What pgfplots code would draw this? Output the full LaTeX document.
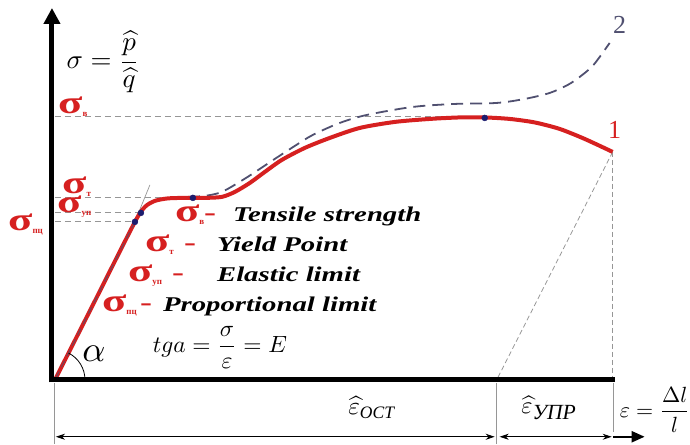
\documentclass[border=0pt]{standalone}
\usepackage{pgfplots}
\pgfplotsset{compat=1.18}
\usepackage{fontspec}
\setmainfont{Liberation Serif}
\usepackage{graphicx}
\usepackage{amsmath}
\usetikzlibrary{arrows.meta}
\definecolor{cred}{RGB}{214,32,32}
\definecolor{cnavy}{RGB}{80,80,112}
\definecolor{cdot}{RGB}{28,28,110}
\definecolor{cgray}{RGB}{150,150,150}
\newcommand{\sig}[1]{\textcolor{cred}{\scalebox{1.4}[1]{\fontsize{32}{32}\selectfont\bfseries σ}\raisebox{-3pt}{\fontsize{9}{9}\selectfont\bfseries #1}}}
\newcommand{\lbl}[1]{\scalebox{1.37}[1]{\fontsize{21}{21}\selectfont\bfseries\itshape #1}}
\newcommand{\dash}{\textcolor{cred}{\scalebox{1.5}[1]{\fontsize{24}{24}\selectfont\bfseries -}}}
\begin{document}
\begin{tikzpicture}
\begin{axis}[width=690pt,height=444pt,scale only axis,xmin=0,xmax=690,ymin=0,ymax=444,
  y dir=reverse,hide axis,clip=false]
\path (axis cs:0,0) rectangle (axis cs:690,444);
% guide lines
\addplot[cgray,line width=1pt,dash pattern=on 6pt off 4pt] coordinates {(55,117) (485,117)};
\addplot[cgray,line width=1pt,dash pattern=on 6pt off 4pt] coordinates {(55,198) (193,198)};
\addplot[cgray,line width=1pt,dash pattern=on 6pt off 4pt] coordinates {(55,213) (141,213)};
\addplot[cgray,line width=1pt,dash pattern=on 6pt off 4pt] coordinates {(55,222) (135,222)};
\addplot[cgray,line width=0.8pt,dash pattern=on 5pt off 3pt] coordinates {(613,152) (497,380)};
\addplot[cgray,line width=0.8pt,dash pattern=on 5pt off 3pt] coordinates {(613,152) (613,380)};
\addplot[cgray,line width=0.7pt] coordinates {(130,234) (150,185)};
% dimension lines
\addplot[cgray,line width=0.7pt] coordinates {(54,383) (54,444)};
\addplot[cgray,line width=0.7pt] coordinates {(497,383) (497,444)};
\addplot[cgray,line width=0.7pt] coordinates {(614,383) (614,432)};
\addplot[black,line width=0.8pt,{Stealth[length=9pt,width=6pt]}-{Stealth[length=9pt,width=6pt]}] coordinates {(56,437) (495,437)};
\addplot[black,line width=0.8pt,{Stealth[length=9pt,width=6pt]}-{Stealth[length=9pt,width=6pt]}] coordinates {(500,437) (612,437)};
\addplot[black,line width=2.2pt,-{Triangle[length=13pt,width=11pt]}] coordinates {(613,437) (645,437)};
% curve 2 (dashed)
\addplot[cnavy,line width=1.8pt,dash pattern=on 12pt off 7pt,smooth,tension=0.5] coordinates {
(188,197) (205,196) (222,192) (243,180) (257,171) (275,159) (295,146) (313,135) (340,123)
(367,115) (413,107) (455,104) (497,103) (525,99) (550,93) (568,85) (580,77) (592,67) (600,57) (610,43)};
% curve 1 (red)
\addplot[cred,line width=4pt,smooth,tension=0.45] coordinates {
(55,380) (95,301) (135,222) (145,207) (155,201) (168,198.5) (185,198) (205,198) (222,197)
(235,192) (250,183) (265,172) (282,160) (305,148) (330,138) (360,128) (395,122) (430,119)
(460,117.5) (485,117.5) (510,119) (535,122.5) (560,129) (585,139) (613,152)};
\addplot[cnavy!70!cred,line width=1.2pt,dash pattern=on 7pt off 5pt] coordinates {(56,378) (134,224)};
% points
\addplot[only marks,mark=*,mark size=3pt,cdot] coordinates {(135,222) (141,213) (193,198) (485,118)};
% axes
\addplot[black,line width=5pt,-{Triangle[length=16pt,width=16pt]}] coordinates {(52,382.5) (52,8)};
\addplot[black,line width=5pt] coordinates {(49.5,380) (615,380)};
% angle
\draw[black,line width=0.8pt] (axis cs:85,380) arc[start angle=0,end angle=63,radius=30pt];
\node[anchor=center] at (axis cs:94,354) {\scalebox{3.6}{$\alpha$}};
% labels
\node[anchor=center] at (axis cs:103,62) {\scalebox{2.7}{$\sigma=\dfrac{\widehat{p}}{\widehat{q}}$}};
\node[anchor=center] at (axis cs:220,348) {\scalebox{2.35}{$tga=\dfrac{\sigma}{\varepsilon}=E$}};
\node[anchor=base west,inner sep=0pt] at (axis cs:58,114) {\sig{в}};
\node[anchor=base west,inner sep=0pt] at (axis cs:62,194) {\sig{т}};
\node[anchor=base west,inner sep=0pt] at (axis cs:57,213) {\sig{уп}};
\node[anchor=base west,inner sep=0pt] at (axis cs:8,231) {\sig{пц}};
\node[anchor=base west,inner sep=0pt] at (axis cs:175,222) {\sig{в}};
\node[anchor=base west,inner sep=0pt] at (axis cs:204,221) {\dash};
\node[anchor=base west,inner sep=0pt] at (axis cs:233,222) {\lbl{Tensile strength}};
\node[anchor=base west,inner sep=0pt] at (axis cs:145,252) {\sig{т}};
\node[anchor=base west,inner sep=0pt] at (axis cs:184,251) {\dash};
\node[anchor=base west,inner sep=0pt] at (axis cs:217,252) {\lbl{Yield Point}};
\node[anchor=base west,inner sep=0pt] at (axis cs:128,282) {\sig{уп}};
\node[anchor=base west,inner sep=0pt] at (axis cs:172,281) {\dash};
\node[anchor=base west,inner sep=0pt] at (axis cs:217,282) {\lbl{Elastic limit}};
\node[anchor=base west,inner sep=0pt] at (axis cs:102,312) {\sig{пц}};
\node[anchor=base west,inner sep=0pt] at (axis cs:140,311) {\dash};
\node[anchor=base west,inner sep=0pt] at (axis cs:163,312) {\lbl{Proportional limit}};
\node[anchor=center,text=cred] at (axis cs:615,130) {\fontsize{26}{26}\selectfont 1};
\node[anchor=center,text=cnavy] at (axis cs:620,25) {\fontsize{26}{26}\selectfont 2};
\node[anchor=center] at (axis cs:372,408) {\scalebox{2.5}{$\widehat{\varepsilon}_{\mathit{OCT}}$}};
\node[anchor=center] at (axis cs:549,408) {\scalebox{2.4}{$\widehat{\varepsilon}$\raisebox{-2.5pt}{\fontsize{9}{9}\selectfont\itshape УПР}}};
\node[anchor=west,inner sep=0pt] at (axis cs:620,410) {\scalebox{2.2}{$\varepsilon=\dfrac{\Delta l}{l}$}};
\end{axis}
\end{tikzpicture}
\end{document}
